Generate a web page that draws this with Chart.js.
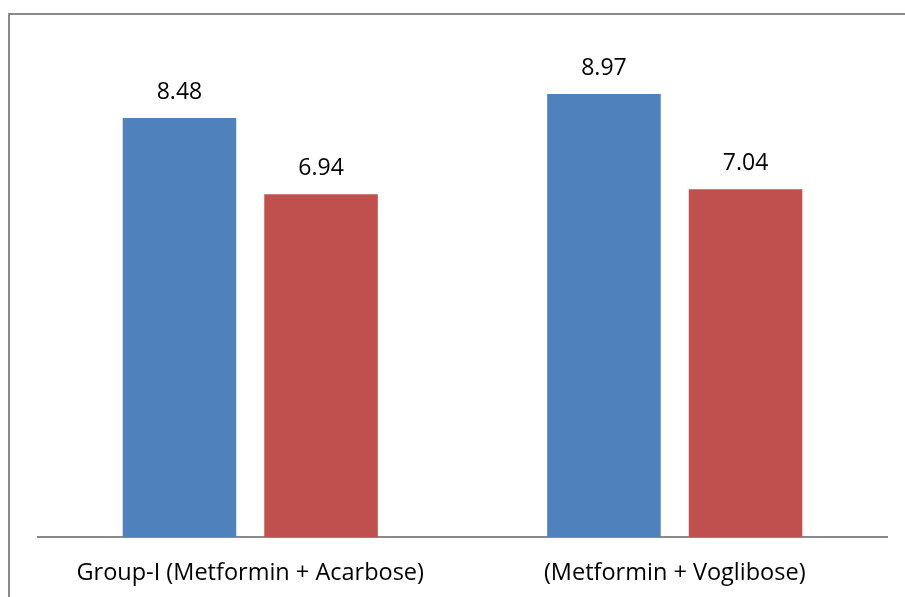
<!DOCTYPE html>
<html>
<head>
<meta charset="utf-8">
<script src="https://cdn.jsdelivr.net/npm/chart.js@4/dist/chart.umd.min.js"></script>
<style>
  html, body { margin: 0; padding: 0; background: #fff; }
  #wrap { position: relative; width: 905px; height: 597px; }
</style>
</head>
<body>
<div id="wrap"><canvas id="barChart"></canvas></div>
<script>
const groups = ['Group-I (Metformin + Acarbose)', '(Metformin + Voglibose)'];
const seriesOne = [8.48, 8.97];
const seriesTwo = [6.94, 7.04];
const yMax = 10;

const FONT = '"Open Sans", "DejaVu Sans", sans-serif';

// outer frame of the chart, runs off the right and bottom edge
const framePlugin = {
    id: 'frame',
    beforeDraw(chart) {
        const ctx = chart.ctx;
        ctx.save();
        ctx.strokeStyle = '#8a8a8a';
        ctx.lineWidth = 2;
        ctx.strokeRect(9, 14, chart.width + 20, chart.height + 20);
        ctx.restore();
    }
};

// value printed above every bar
const valuePlugin = {
    id: 'values',
    afterDatasetsDraw(chart) {
        const ctx = chart.ctx;
        ctx.save();
        ctx.fillStyle = '#000';
        ctx.font = '23px ' + FONT;
        ctx.textAlign = 'center';
        ctx.textBaseline = 'alphabetic';
        chart.data.datasets.forEach((ds, i) => {
            chart.getDatasetMeta(i).data.forEach((bar, j) => {
                ctx.fillText(ds.data[j].toFixed(2), bar.x, bar.y - 19);
            });
        });
        ctx.restore();
    }
};

new Chart(document.getElementById('barChart'), {
    type: 'bar',
    data: {
        labels: groups,
        datasets: [
            { label: 'Series 1', data: seriesOne, backgroundColor: '#4F81BD' },
            { label: 'Series 2', data: seriesTwo, backgroundColor: '#C0504D' }
        ]
    },
    options: {
        responsive: true,
        maintainAspectRatio: false,
        animation: false,
        layout: { padding: { left: 38, right: 18, top: 43, bottom: 0 } },
        datasets: {
            bar: { categoryPercentage: 0.667, barPercentage: 0.802 }
        },
        scales: {
            x: {
                grid: { display: false },
                border: { display: true, color: '#8a8a8a', width: 2 },
                ticks: {
                    color: '#000',
                    font: { family: FONT, size: 23.5 },
                    padding: 14,
                    maxRotation: 0
                },
                afterFit: (scale) => { scale.height = 60; }
            },
            y: {
                display: false,
                min: 0,
                max: yMax
            }
        },
        plugins: {
            legend: { display: false },
            tooltip: { enabled: false }
        }
    },
    plugins: [framePlugin, valuePlugin]
});
</script>
</body>
</html>
